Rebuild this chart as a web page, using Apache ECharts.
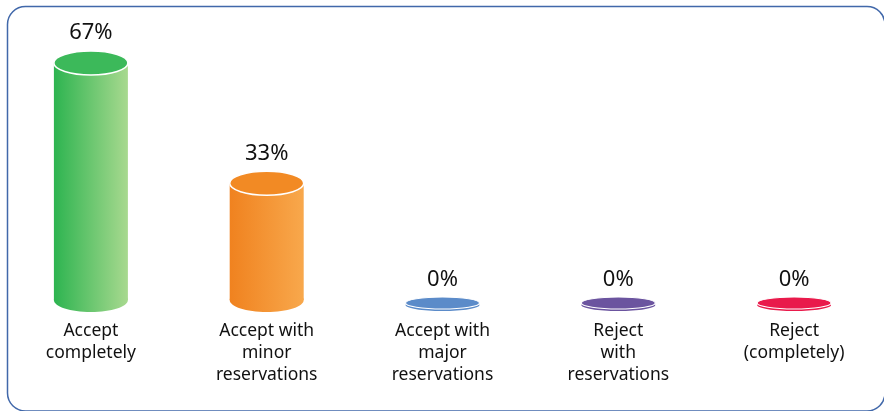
<!DOCTYPE html>
<html>
<head>
<meta charset="utf-8">
<script src="https://cdn.jsdelivr.net/npm/echarts@6/dist/echarts.min.js"></script>
<style>
html,body{margin:0;padding:0;background:#fff;}
#chart{width:884px;height:411px;}
</style>
</head>
<body>
<div id="chart"></div>
<script>
const categories = ["Accept\ncompletely", "Accept with\nminor\nreservations", "Accept with\nmajor\nreservations", "Reject\nwith\nreservations", "Reject\n(completely)"];
const values = [67, 33, 0, 0, 0];
const topColors = ["#3cb95a", "#f28a24", "#5b8bc9", "#6b549f", "#e91a4b"];
const leftColors = ["#2db450", "#f0821f", "#5b8bc9", "#6b549f", "#e91a4b"];
const rightColors = ["#a8d98f", "#f8a84c", "#5b8bc9", "#6b549f", "#e91a4b"];

const chart = echarts.init(document.getElementById('chart'));
const FONT = '"Noto Sans", sans-serif';

function grad(i) {
  return {type: 'linear', x: 0, y: 0, x2: 1, y2: 0,
    colorStops: [{offset: 0, color: leftColors[i]}, {offset: 1, color: rightColors[i]}]};
}

chart.setOption({
  animation: false,
  graphic: [{
    type: 'rect', left: 5, top: 4, z: 100,
    shape: {x: 0, y: 0, width: 877.5, height: 404.5, r: 18},
    style: {fill: 'none', stroke: '#4168aa', lineWidth: 1.5}
  }],
  grid: {left: 3, right: 2, top: 17, bottom: 111},
  xAxis: {
    type: 'category', data: categories,
    axisLine: {show: false}, axisTick: {show: false},
    axisLabel: {interval: 0, margin: 20, color: '#111111', fontSize: 17.5, lineHeight: 22, fontFamily: FONT, verticalAlign: 'top'}
  },
  yAxis: {type: 'value', min: 0, max: 80, show: false, splitLine: {show: false}},
  series: [{
    type: 'custom',
    data: values.map((v, i) => [i, v]),
    renderItem: function (params, api) {
      const i = api.value(0), v = api.value(1);
      const top = api.coord([i, v]);
      const base = api.coord([i, 0]);
      const cx = top[0], rx = 37;
      const children = [];
      let labelY;
      if (v > 0) {
        const ry = 12;
        children.push({type: 'rect', shape: {x: cx - rx, y: top[1], width: rx * 2, height: base[1] - top[1]}, style: {fill: grad(i)}});
        children.push({type: 'ellipse', shape: {cx: cx, cy: base[1], rx: rx, ry: ry}, style: {fill: grad(i)}});
        children.push({type: 'ellipse', shape: {cx: cx, cy: top[1], rx: rx, ry: ry}, style: {fill: topColors[i], stroke: '#ffffff', lineWidth: 1.5}});
        labelY = top[1] - ry - 18;
      } else {
        const ry = 6, cy = base[1] + 3;
        children.push({type: 'ellipse', shape: {cx: cx, cy: cy + 2, rx: rx, ry: ry}, style: {fill: topColors[i]}});
        children.push({type: 'ellipse', shape: {cx: cx, cy: cy, rx: rx, ry: ry}, style: {fill: topColors[i], stroke: '#ffffff', lineWidth: 1.2}});
        labelY = cy - ry - 17;
      }
      children.push({type: 'text', style: {text: v + '%', x: cx, y: labelY, align: 'center', verticalAlign: 'middle', fill: '#111111', fontSize: 22, fontFamily: FONT}});
      return {type: 'group', children: children};
    }
  }]
});
</script>
</body>
</html>
